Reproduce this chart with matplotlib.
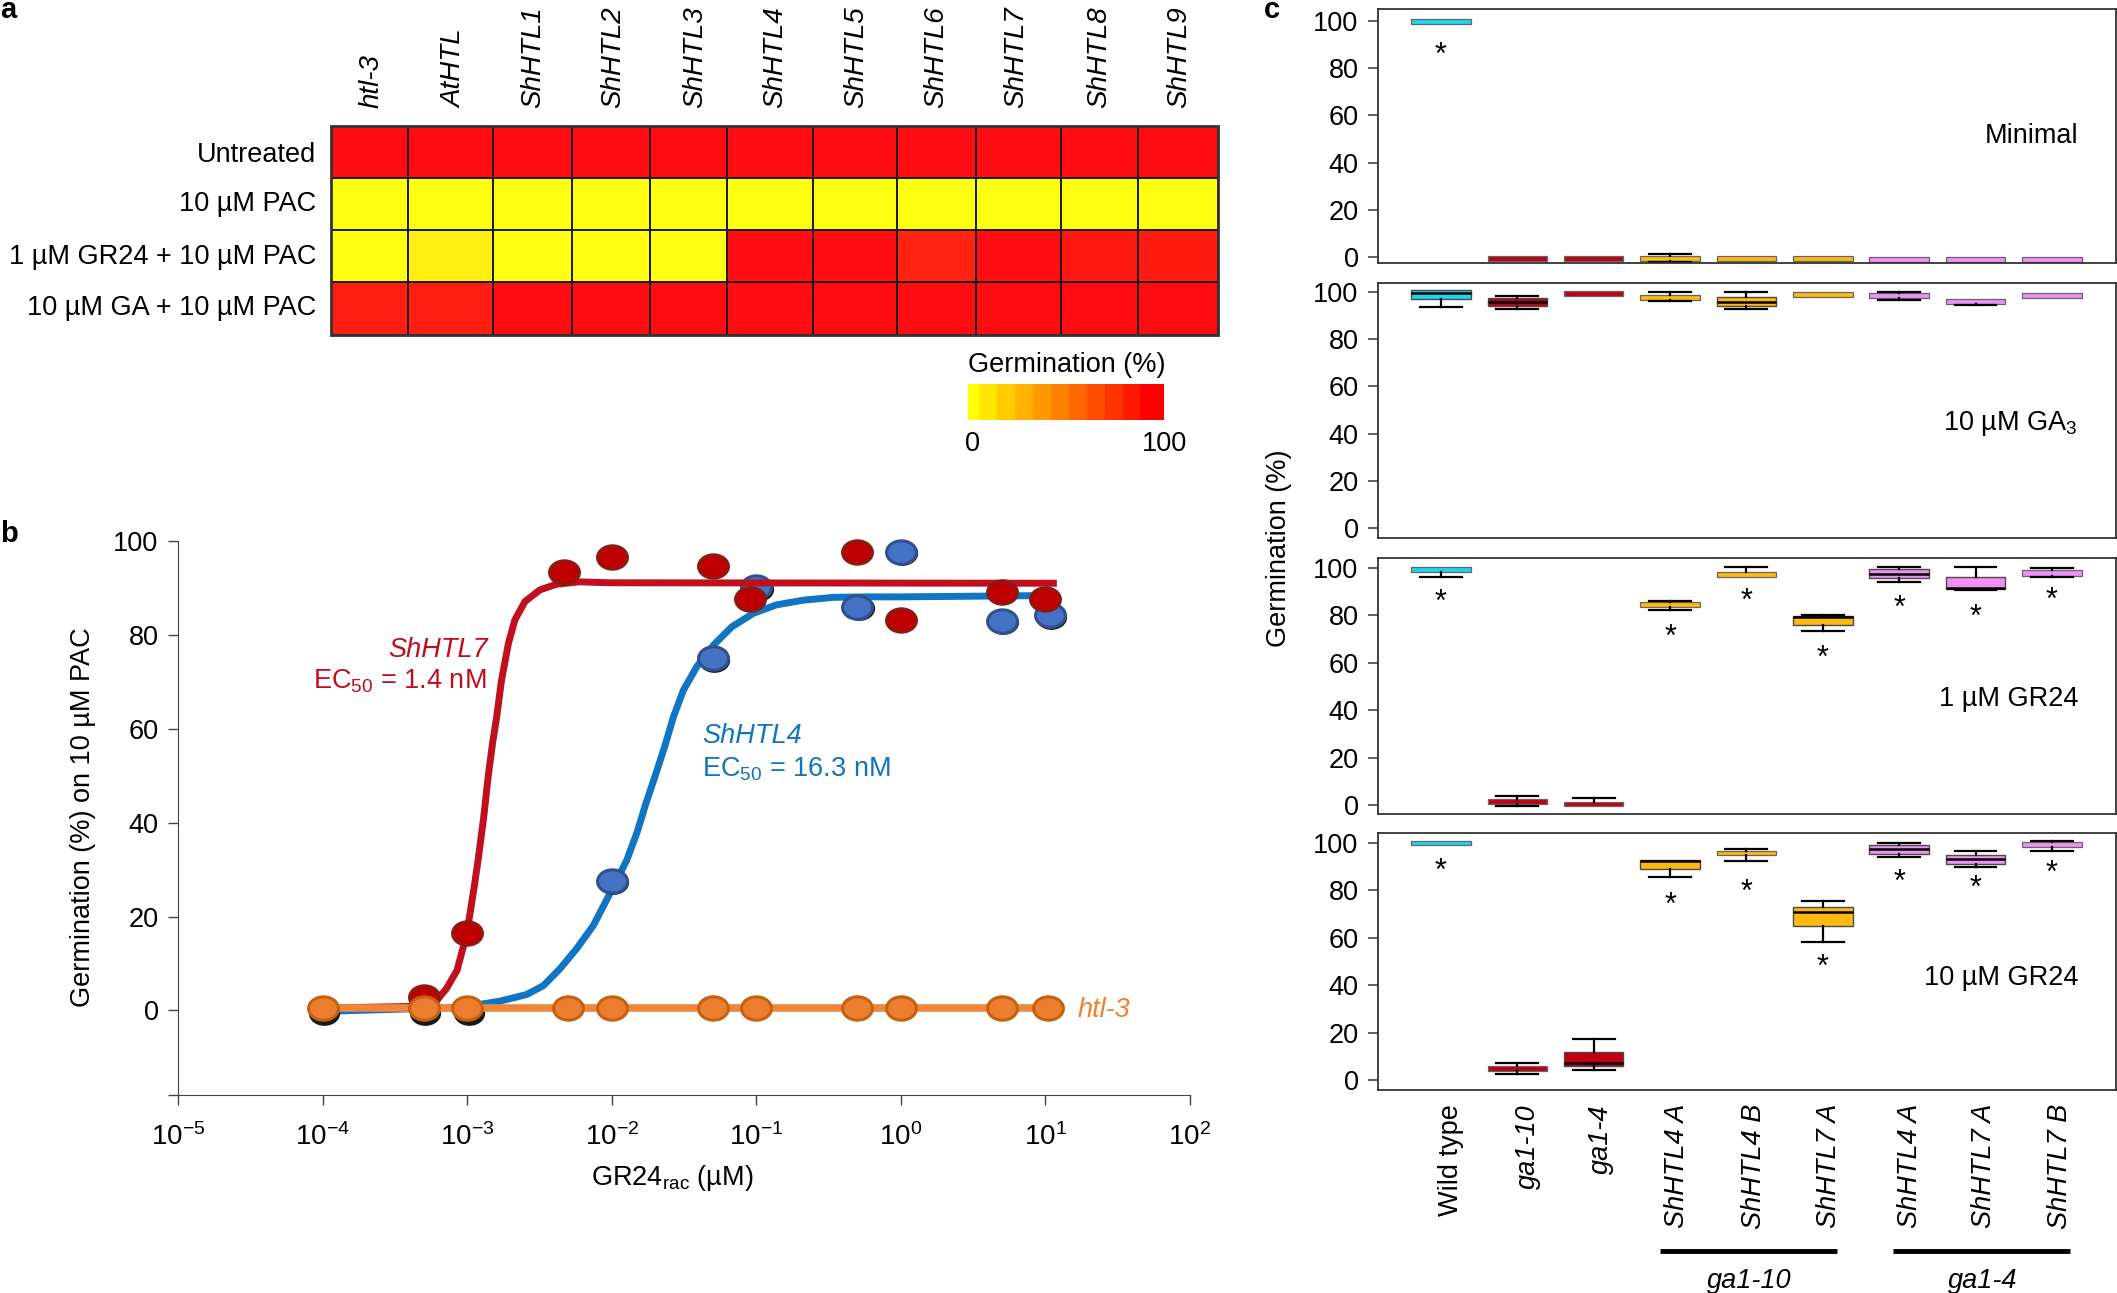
import matplotlib
matplotlib.use('Agg')
from matplotlib import pyplot as plt
from matplotlib.colors import LinearSegmentedColormap
from matplotlib.lines import Line2D
from matplotlib.path import Path
from matplotlib.transforms import Affine2D, ScaledTranslation
import numpy as np

plt.rcParams['font.family'] = ['Liberation Sans', 'DejaVu Sans']
plt.rcParams['mathtext.fontset'] = 'custom'
plt.rcParams['mathtext.rm'] = 'Liberation Sans'
plt.rcParams['mathtext.it'] = 'Liberation Sans:italic'
plt.rcParams['mathtext.default'] = 'regular'

W, H = 2117, 1293
FS = 19.5

# panel a
lines_a = ['htl-3', 'AtHTL', 'ShHTL1', 'ShHTL2', 'ShHTL3', 'ShHTL4', 'ShHTL5',
           'ShHTL6', 'ShHTL7', 'ShHTL8', 'ShHTL9']
treatments = ['Untreated', '10 µM PAC', '1 µM GR24 + 10 µM PAC', '10 µM GA + 10 µM PAC']
untreated = [100, 100, 100, 100, 100, 100, 100, 100, 100, 100, 100]
pac = [0, 0, 0, 0, 0, 0, 0, 0, 0, 0, 0]
gr24_pac = [0, 7, 0, 0, 0, 100, 100, 90, 100, 95, 94]
ga_pac = [92, 93, 100, 100, 100, 100, 100, 100, 100, 100, 100]
scale_steps = [0, 10, 20, 30, 40, 50, 60, 70, 80, 90, 100]

# panel b
shhtl7_x = [5e-4, 1e-3, 4.7e-3, 1e-2, 5e-2, 0.09, 0.5, 1, 5, 10]
shhtl7_y = [2.9, 16.6, 93.3, 96.5, 94.6, 87.6, 97.6, 83.2, 89.2, 87.6]
shhtl4_x = [1e-4, 5e-4, 1e-3, 1e-2, 5e-2, 0.1, 0.5, 1, 5, 10.7]
shhtl4_y = [-0.2, -0.2, -0.2, 27.6, 75, 90.2, 86, 97.7, 83, 84.2]
htl3_x = [1e-4, 5e-4, 1e-3, 5e-3, 1e-2, 5e-2, 0.1, 0.5, 1, 5, 10.5]
htl3_y = [0.5, 0.5, 0.5, 0.5, 0.5, 0.5, 0.5, 0.5, 0.5, 0.5, 0.5]
fit7_x = [1e-4, 4.7e-4, 6.15e-4, 7.2e-4, 8.5e-4, 9.4e-4, 1.02e-3, 1.11e-3, 1.19e-3, 1.3e-3, 1.4e-3, 1.5e-3, 1.6e-3,
          1.73e-3, 1.93e-3, 2.14e-3, 2.51e-3, 3.19e-3, 4.16e-3, 6e-3, 9.7e-3, 12]
fit7_y = [0.5, 0.9, 2.1, 4.7, 8.5, 13.5, 18.5, 25.6, 32, 41, 50, 57, 62.5,
          70.4, 78.2, 83.2, 87.1, 89.6, 90.8, 91.3, 91.1, 91]
fit4_x = [1e-4, 1e-3, 1.23e-3, 1.69e-3, 2.58e-3, 3.37e-3, 4.39e-3, 5.73e-3, 7.46e-3, 9.2e-3, 1.08e-2, 1.27e-2, 1.5e-2,
          1.72e-2, 2e-2, 2.34e-2, 2.67e-2, 3.13e-2, 3.87e-2, 5.05e-2, 6.76e-2, 9.55e-2, 0.138, 0.212, 0.341, 0.58, 0.99, 12]
fit4_y = [-0.2, 0.7, 1.3, 2, 3.4, 5.3, 8.9, 13.2, 18.1, 23.5, 27.7, 32, 38,
          44, 50, 56.5, 62.5, 68.2, 73.2, 77.8, 81.7, 84.6, 86.4, 87.4, 88, 88.1, 88.1, 88.4]

# panel c, one list per box statistic
genotypes = ['Wild type', 'ga1-10', 'ga1-4', 'ShHTL4 A', 'ShHTL4 B', 'ShHTL7 A', 'ShHTL4 A', 'ShHTL7 A', 'ShHTL7 B']

minimal_lo = [98.6, -1.8, -1.8, -2, -1.8, -1.8, -2.1, -2.1, -2.1]
minimal_q1 = [98.6, -1.8, -1.8, -1.8, -1.8, -1.8, -2.1, -2.1, -2.1]
minimal_med = [99.7, -0.7, -0.7, -0.6, -0.7, -0.7, -1, -1, -1]
minimal_q3 = [100.7, 0.3, 0.3, 0.3, 0.3, 0.3, 0, 0, 0]
minimal_hi = [100.7, 0.3, 0.3, 1.5, 0.3, 0.3, 0, 0, 0]
minimal_star = [87.7, None, None, None, None, None, None, None, None]

ga3_lo = [93.5, 92.9, 98.3, 96.2, 92.9, 97.9, 96.4, 94.5, 97.6]
ga3_q1 = [97, 94.1, 98.3, 96.7, 94.1, 97.9, 97.6, 95, 97.6]
ga3_med = [99.4, 95.8, 99.4, 98, 95.8, 98.9, 99, 96.2, 99.4]
ga3_q3 = [101, 97.6, 100.5, 98.8, 98, 99.8, 99.7, 97.1, 99.7]
ga3_hi = [101, 98.2, 100.5, 99.8, 99.8, 99.8, 100, 97.1, 99.7]
ga3_star = [None, None, None, None, None, None, None, None, None]

gr1_lo = [96.3, -0.4, -0.4, 82.2, 96.3, 73.6, 94.1, 90.5, 96.3]
gr1_q1 = [98.2, 0.4, -0.4, 83.4, 96.3, 75.9, 95.9, 91.3, 96.8]
gr1_med = [100, 1.6, 0.8, 84.8, 98, 79.1, 97.4, 91.7, 98]
gr1_q3 = [100.4, 2.6, 1.4, 85.6, 98.4, 79.7, 99.6, 96.3, 99.2]
gr1_hi = [100.4, 3.7, 3, 86.2, 100.4, 80.3, 100.6, 100.6, 100]
gr1_star = [87.8, None, None, 73.2, 88.2, 64, 85.4, 81.3, 88.4]

gr10_lo = [98.8, 2.6, 4.4, 85.5, 92.3, 58, 94, 89.7, 96.6]
gr10_q1 = [98.8, 3.6, 5.8, 88.7, 94.6, 64.7, 95.2, 90.9, 98]
gr10_med = [100, 4.8, 7, 92.3, 96.2, 70.6, 97.2, 92.9, 99.6]
gr10_q3 = [100.8, 5.8, 11.9, 92.7, 96.4, 73, 99, 94.8, 100.2]
gr10_hi = [100.8, 7, 17.1, 92.7, 97.2, 75.2, 100, 96.4, 100.8]
gr10_star = [90.3, None, None, 76, 81.3, 49.8, 85.3, 82.9, 89.1]

box_colors = ['#1fd5ee', '#c00010', '#c00010', '#ffb90f', '#ffb90f', '#ffb90f', '#ee90f5', '#ee90f5', '#ee90f5']


def px_axes(fig, left, top, right, bottom):
    return fig.add_axes([left / W, 1 - bottom / H, (right - left) / W, (bottom - top) / H])


def px_text(fig, x, y, s, **kwargs):
    kwargs.setdefault('fontsize', FS)
    kwargs.setdefault('va', 'center')
    fig.text(x / W, 1 - y / H, s, **kwargs)


def plot_heatmap(fig):
    cmap = LinearSegmentedColormap.from_list('yr', ['#ffff12', '#ff0c12'])
    col_edges = [331, 408, 493, 572, 650, 727, 813, 897, 976, 1061, 1138, 1218]
    row_edges = [126, 178, 230, 282, 335]
    ax = px_axes(fig, 331, 126, 1218, 335)
    ax.pcolormesh(col_edges, row_edges, np.array([untreated, pac, gr24_pac, ga_pac]), cmap=cmap,
                  vmin=0, vmax=100, edgecolors='#1c1c1c', linewidth=1.1)
    ax.set_xlim(331, 1218)
    ax.set_ylim(335, 126)
    ax.axis('off')
    ax.add_patch(plt.Rectangle((331, 126), 887, 209, fill=False, ec='#333333', lw=2, clip_on=False))
    label_x = [372, 454, 533, 613, 695, 775, 856, 936, 1016, 1099, 1179]
    for x, name in zip(label_x, lines_a):
        px_text(fig, x, 108, name, rotation=90, style='italic', ha='center', va='bottom', fontsize=20)
    for y, name in zip([155, 204, 257, 308], treatments):
        px_text(fig, 316, y, name, ha='right')
    # stepped scale under the heatmap
    sax = px_axes(fig, 968, 384, 1164, 420)
    scale_edges = [968, 979, 997, 1015, 1033, 1051, 1069, 1087, 1105, 1123, 1140, 1164]
    sax.pcolormesh(scale_edges, [0, 1], [scale_steps], cmap=LinearSegmentedColormap.from_list('s', ['#ffff00', '#ff0000']),
                   vmin=0, vmax=100)
    sax.axis('off')
    px_text(fig, 1067, 365, 'Germination (%)', ha='center')
    px_text(fig, 973, 444, '0', ha='center')
    px_text(fig, 1164, 444, '100', ha='center')


def plot_dose_response(fig):
    ax = px_axes(fig, 178, 541, 1190, 1095)
    red_line, blue_line, orange_line = '#c0101f', '#0f75c4', '#f0863c'
    ellipse = Path.unit_circle().transformed(Affine2D().scale(1.28, 1))
    shadow = ax.transData + ScaledTranslation(1.5 / 100, -1.5 / 100, fig.dpi_scale_trans)
    ms = 21.5
    ax.plot(fit4_x, fit4_y, color=blue_line, lw=5, solid_capstyle='butt', solid_joinstyle='round', clip_on=False, zorder=2)
    ax.plot(shhtl4_x, shhtl4_y, ls='none', marker=ellipse, ms=ms, color='#1a1a1a', transform=shadow, clip_on=False, zorder=2)
    ax.plot(shhtl4_x[3:], shhtl4_y[3:], ls='none', marker=ellipse, ms=ms, mfc='#4472c4', mec='#2f528f', mew=2.2, clip_on=False, zorder=3)
    ax.plot(fit7_x, fit7_y, color=red_line, lw=5, solid_capstyle='butt', solid_joinstyle='round', clip_on=False, zorder=4)
    ax.plot(shhtl7_x, shhtl7_y, ls='none', marker=ellipse, ms=ms, mfc='#c00000', mec='#8b1a10', mew=2.2, clip_on=False, zorder=5)
    ax.plot(htl3_x, htl3_y, color=orange_line, lw=5.5, clip_on=False, zorder=6)
    ax.plot(htl3_x, htl3_y, ls='none', marker=ellipse, ms=ms, mfc='#ed7d31', mec='#c5620f', mew=2.2, clip_on=False, zorder=7)
    ax.set_xscale('log')
    ax.set_xlim(1e-5, 1e2)
    ax.set_ylim(-18, 100)
    ax.set_xticks([1e-5, 1e-4, 1e-3, 1e-2, 1e-1, 1, 10, 100])
    ax.minorticks_off()
    ax.set_yticks([-18, 0, 20, 40, 60, 80, 100])
    ax.set_yticklabels(['', '0', '20', '40', '60', '80', '100'])
    ax.tick_params(labelsize=FS, length=7, width=1, color='#444444', pad=7)
    ax.tick_params(axis='x', pad=13, labelsize=20)
    for side in ['top', 'right']:
        ax.spines[side].set_visible(False)
    for side in ['left', 'bottom']:
        ax.spines[side].set_color('#444444')
    px_text(fig, 83, 817, 'Germination (%) on 10 µM PAC', rotation=90, ha='center')
    px_text(fig, 672, 1178, 'GR24$_{rac}$ (µM)', ha='center')
    px_text(fig, 488, 650, 'ShHTL7', style='italic', ha='right', color='#c00d1e')
    px_text(fig, 486, 681, 'EC$_{50}$ = 1.4 nM', ha='right', color='#c00d1e')
    px_text(fig, 702, 736, 'ShHTL4', style='italic', color='#0f75bc')
    px_text(fig, 702, 769, 'EC$_{50}$ = 16.3 nM', color='#0f75bc')
    px_text(fig, 1078, 1010, 'htl-3', style='italic', color='#f0802f')


def plot_box_panel(fig, rect, ylim, lo, q1, med, q3, hi, stars, title, title_y):
    ax = px_axes(fig, *rect)
    stats = [dict(whislo=a, q1=b, med=c, q3=d, whishi=e) for a, b, c, d, e in zip(lo, q1, med, q3, hi)]
    positions = range(1, 10)
    parts = ax.bxp(stats, positions=positions, widths=0.78, capwidths=0.55, patch_artist=True, showfliers=False,
                   boxprops=dict(edgecolor='#4a4a4a', linewidth=1),
                   medianprops=dict(color='black', linewidth=1.8),
                   whiskerprops=dict(color='black', linewidth=1.6),
                   capprops=dict(color='black', linewidth=1.6))
    for box, color in zip(parts['boxes'], box_colors):
        box.set_facecolor(color)
    # no whisker drawn where it would sit on the box edge
    for i in range(9):
        parts['caps'][2 * i].set_visible(lo[i] < q1[i])
        parts['caps'][2 * i + 1].set_visible(hi[i] > q3[i])
        # very flat boxes read as a coloured stripe with a grey edge
        if q3[i] - q1[i] < 3:
            parts['medians'][i].set_visible(False)
            parts['boxes'][i].set_edgecolor('#666666')
            parts['boxes'][i].set_linewidth(0.9)
    for pos, star in zip(positions, stars):
        if star is not None:
            ax.text(pos, star - 2.5, '*', ha='center', va='center', fontsize=22)
    ax.set_xlim(0.175, 9.84)
    ax.set_ylim(*ylim)
    ax.set_xticks([])
    ax.set_yticks([0, 20, 40, 60, 80, 100])
    ax.tick_params(labelsize=FS, length=7, width=1.2, color='#444444', pad=7)
    for spine in ax.spines.values():
        spine.set_color('#333333')
        spine.set_linewidth(1.3)
    px_text(fig, 2078, title_y, title, ha='right')


def plot_boxes(fig):
    plot_box_panel(fig, (1378, 9, 2116, 263), (-2.5, 105), minimal_lo, minimal_q1, minimal_med, minimal_q3, minimal_hi,
                   minimal_star, 'Minimal', 136)
    plot_box_panel(fig, (1378, 283, 2116, 538), (-4.2, 103.8), ga3_lo, ga3_q1, ga3_med, ga3_q3, ga3_hi,
                   ga3_star, '10 µM GA$_{3}$', 424)
    plot_box_panel(fig, (1378, 558, 2116, 814), (-3.8, 104.2), gr1_lo, gr1_q1, gr1_med, gr1_q3, gr1_hi,
                   gr1_star, '1 µM GR24', 699)
    plot_box_panel(fig, (1378, 833, 2116, 1090), (-4.2, 104), gr10_lo, gr10_q1, gr10_med, gr10_q3, gr10_hi,
                   gr10_star, '10 µM GR24', 978)
    label_x = [1451, 1528, 1601, 1677, 1754, 1829, 1910, 1984, 2060]
    for i, (x, name) in enumerate(zip(label_x, genotypes)):
        px_text(fig, x, 1104, name, rotation=90, ha='center', va='top', style='normal' if i == 0 else 'italic')
    px_text(fig, 1279, 548, 'Germination (%)', rotation=90, ha='center')
    for x0, x1 in [(1660, 1837), (1893, 2070)]:
        fig.add_artist(Line2D([x0 / W, x1 / W], [1 - 1251 / H] * 2, color='black', lw=3.5, solid_capstyle='butt'))
    px_text(fig, 1749, 1281, 'ga1-10', ha='center', style='italic')
    px_text(fig, 1983, 1281, 'ga1-4', ha='center', style='italic')


def main():
    fig = plt.figure(figsize=(W / 100, H / 100), dpi=100)
    plot_heatmap(fig)
    plot_dose_response(fig)
    plot_boxes(fig)
    for x, y, s in [(0, 10, 'a'), (0, 534, 'b'), (1264, 10, 'c')]:
        px_text(fig, x, y, s, fontweight='bold', fontsize=21)
    fig.savefig('out.png', dpi=100)


if __name__ == "__main__":
    main()
